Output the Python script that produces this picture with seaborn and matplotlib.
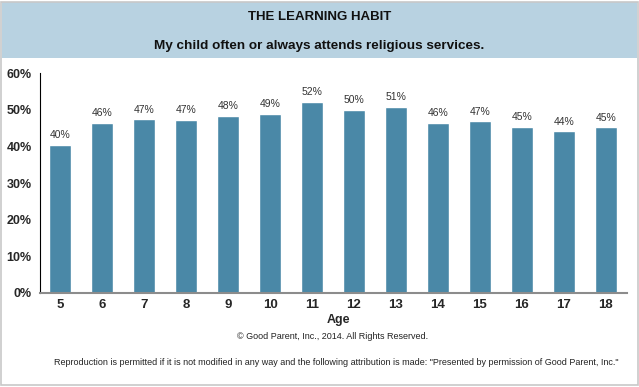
import matplotlib
matplotlib.use("Agg")
import matplotlib.pyplot as plt
import seaborn as sns
import pandas as pd
from matplotlib.patches import Rectangle

# data
ages = ["5", "6", "7", "8", "9", "10", "11", "12", "13", "14", "15", "16", "17", "18"]
pct = [40.4, 46.4, 47.4, 47.2, 48.3, 48.8, 52.1, 49.9, 50.8, 46.4, 46.8, 45.3, 44.1, 45.2]
y_ticks = [0, 10, 20, 30, 40, 50, 60]

df = pd.DataFrame({"Age": ages, "Pct": pct})

sns.set_theme(style="white")
plt.rcParams["font.family"] = ["Liberation Sans", "DejaVu Sans"]

fig = plt.figure(figsize=(6.39, 3.87), dpi=100)
ax = fig.add_axes([0.0626, 0.2429, 0.9184, 0.5682])

# header band and outer frame
fig.patches.append(Rectangle((0.003, 0.85), 0.994, 0.145, transform=fig.transFigure,
                             facecolor="#b8d2e1", edgecolor="none", zorder=0))
fig.patches.append(Rectangle((0.002, 0.004), 0.996, 0.992, transform=fig.transFigure,
                             facecolor="none", edgecolor="#c8c8c8", lw=1.2, zorder=0))

sns.barplot(data=df, x="Age", y="Pct", color="#4a88a7", saturation=1, width=0.52, ax=ax)

for i, v in enumerate(pct):
    ax.text(i, v + 1.3, f"{round(v)}%", ha="center", va="bottom", fontsize=7.5, color="#333333")

ax.set_xlim(-0.48, 13.5)
ax.set_ylim(0, 60)
ax.set_yticks(y_ticks)
ax.set_yticklabels([f"{t}%" for t in y_ticks], fontsize=9, fontweight="bold")
ax.tick_params(axis="y", direction="inout", length=6, width=0.8, color="black", pad=3)
ax.tick_params(axis="x", length=0, pad=4)
for lbl in ax.get_xticklabels():
    lbl.set_fontsize(9.5)
    lbl.set_fontweight("bold")
ax.set_xlabel("")
ax.set_ylabel("")

sns.despine(ax=ax)
ax.spines["left"].set_color("black")
ax.spines["left"].set_linewidth(0.8)
ax.spines["bottom"].set_color("#8c8c8c")
ax.spines["bottom"].set_linewidth(1.5)

fig.text(0.5, 0.955, "THE LEARNING HABIT", ha="center", va="center",
         fontsize=9.5, fontweight="bold", color="#111111")
fig.text(0.5, 0.882, "My child often or always attends religious services.", ha="center",
         va="center", fontsize=9.7, fontweight="bold", color="#111111")
fig.text(0.529, 0.174, "Age", ha="center", va="center", fontsize=9, fontweight="bold")
fig.text(0.52, 0.131, "© Good Parent, Inc., 2014. All Rights Reserved.", ha="center",
         va="center", fontsize=6.5, color="#222222")
fig.text(0.526, 0.064, 'Reproduction is permitted if it is not modified in any way and the following '
         'attribution is made: "Presented by permission of Good Parent, Inc."',
         ha="center", va="center", fontsize=6.5, color="#222222")

fig.savefig("out.png", dpi=100)
